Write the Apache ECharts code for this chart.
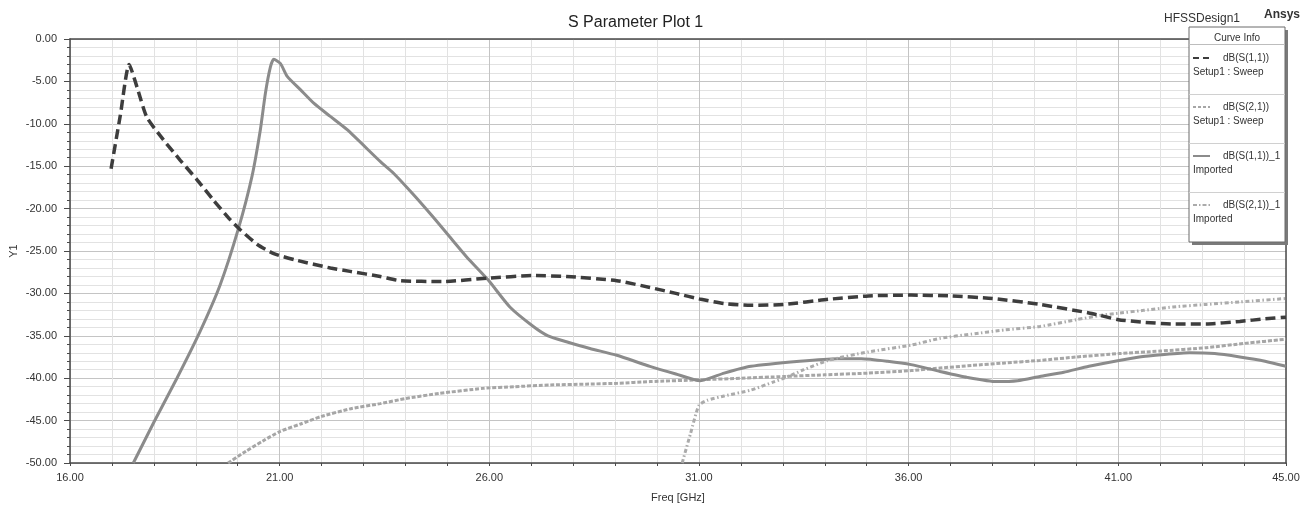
<!DOCTYPE html>
<html>
<head>
<meta charset="utf-8">
<title>S Parameter Plot 1</title>
<script src="https://cdn.jsdelivr.net/npm/echarts@6/dist/echarts.min.js"></script>
<style>
    html, body { margin: 0; padding: 0; background: #fff; }
    #main { width: 1314px; height: 506px; }
</style>
</head>
<body>
<div id="main"></div>
<script>
// 读图估计的数据 (Freq GHz / dB)
var s11SetupFreq = [16.98, 17.2, 17.41, 17.6, 17.83, 18.23, 18.63, 19.03, 19.42, 19.82, 20.06, 20.46, 20.86, 21.41, 22.21, 22.68, 23.4, 23.87, 24.9, 25.97, 27.05, 27.84, 29.04, 29.83, 30.45, 31.05, 31.6, 32.24, 33.03, 34.08, 35.04, 36.06, 37.0, 38.0, 39.13, 40.3, 40.57, 41.0, 41.6, 42.3, 43.1, 43.9, 44.5, 45.0];
var s11SetupDb = [-15.3, -9.0, -3.0, -5.7, -9.2, -11.9, -14.3, -16.6, -19.0, -21.3, -22.5, -24.2, -25.3, -26.1, -27.0, -27.4, -28.0, -28.5, -28.6, -28.2, -27.9, -28.0, -28.5, -29.3, -30.0, -30.7, -31.2, -31.4, -31.3, -30.7, -30.3, -30.2, -30.3, -30.6, -31.3, -32.3, -32.6, -33.1, -33.4, -33.6, -33.6, -33.3, -33.0, -32.8];

var s21SetupFreq = [19.77, 20.2, 20.6, 21.0, 21.5, 22.0, 22.7, 23.4, 24.0, 24.8, 25.85, 26.6, 27.46, 28.3, 29.06, 29.83, 31.0, 32.0, 33.03, 34.0, 35.04, 36.06, 36.75, 37.5, 38.3, 39.13, 40.0, 41.0, 42.0, 43.1, 44.0, 45.0];
var s21SetupDb = [-50.0, -48.6, -47.4, -46.3, -45.4, -44.5, -43.6, -43.0, -42.4, -41.8, -41.2, -41.0, -40.8, -40.7, -40.6, -40.4, -40.2, -40.0, -39.8, -39.6, -39.4, -39.1, -38.8, -38.5, -38.2, -37.9, -37.5, -37.1, -36.8, -36.4, -35.9, -35.4];

var s11ImpFreq = [17.51, 18.0, 18.55, 19.1, 19.58, 20.02, 20.34, 20.54, 20.66, 20.78, 20.86, 21.02, 21.18, 21.5, 21.82, 22.2, 22.61, 23.41, 23.71, 24.2, 24.66, 25.05, 25.46, 25.97, 26.49, 27.05, 27.4, 27.84, 28.4, 29.04, 29.83, 30.45, 31.03, 31.6, 32.24, 33.4, 34.3, 34.87, 35.5, 36.06, 36.75, 37.4, 38.1, 38.6, 39.13, 39.7, 40.3, 41.5, 42.1, 42.7, 43.3, 43.9, 44.5, 45.0];
var s11ImpDb = [-50.0, -45.2, -40.0, -34.5, -29.0, -22.3, -16.2, -10.7, -6.4, -3.3, -2.4, -2.9, -4.4, -6.0, -7.6, -9.1, -10.7, -14.5, -15.8, -18.4, -21.0, -23.3, -25.7, -28.4, -31.6, -33.9, -35.0, -35.7, -36.5, -37.3, -38.6, -39.5, -40.3, -39.4, -38.6, -38.0, -37.7, -37.7, -38.0, -38.4, -39.2, -39.9, -40.4, -40.3, -39.8, -39.3, -38.6, -37.5, -37.2, -37.0, -37.1, -37.5, -38.0, -38.6];

var s21ImpFreq = [30.6, 30.8, 31.0, 31.2, 31.6, 32.24, 32.8, 33.03, 33.5, 34.08, 35.04, 36.06, 36.75, 37.5, 38.3, 39.13, 40.0, 40.57, 40.9, 41.6, 42.3, 43.1, 43.9, 45.0];
var s21ImpDb = [-50.0, -46.5, -43.2, -42.6, -42.1, -41.4, -40.4, -40.0, -39.0, -37.9, -36.9, -36.1, -35.3, -34.8, -34.3, -33.9, -33.1, -32.6, -32.4, -32.0, -31.6, -31.3, -31.0, -30.6];

var seriesNames = ['dB(S(1,1))', 'dB(S(2,1))', 'dB(S(1,1))_1', 'dB(S(2,1))_1'];
var seriesSources = ['Setup1 : Sweep', 'Setup1 : Sweep', 'Imported', 'Imported'];

var xMin = 16, xMax = 45;
var yMin = -50, yMax = 0;

var FONT = 'Liberation Sans, Arial, sans-serif';

function pair(f, d) {
    var out = [];
    for (var i = 0; i < f.length; i++) out.push([f[i], d[i]]);
    return out;
}

var myChart = echarts.init(document.getElementById('main'));

// 线型: 颜色 / 宽度 / 虚线
var styles = [
    { color: '#3d3d3d', width: 3.5, type: [10, 5] },
    { color: '#a6a6a6', width: 3, type: [4, 1.8] },
    { color: '#8b8b8b', width: 3, type: 'solid' },
    { color: '#ababab', width: 3, type: [4, 2.5, 1.5, 2.5] }
];
var legendDash = [[6, 4], [3, 2], null, [4, 2, 1.5, 2]];
var datas = [
    pair(s11SetupFreq, s11SetupDb),
    pair(s21SetupFreq, s21SetupDb),
    pair(s11ImpFreq, s11ImpDb),
    pair(s21ImpFreq, s21ImpDb)
];

var series = [];
for (var i = 0; i < datas.length; i++) {
    series.push({
        name: seriesNames[i],
        type: 'line',
        xAxisIndex: 0,
        yAxisIndex: 0,
        data: datas[i],
        showSymbol: false,
        symbol: 'none',
        smooth: 0.2,
        silent: true,
        lineStyle: { color: styles[i].color, width: styles[i].width, type: styles[i].type, cap: 'butt' },
        z: 3 + (i === 0 ? 2 : 0)
    });
}

// 图例框 (Curve Info)
var bx = 1189, by = 27, bw = 96, bh = 215;
var legendEls = [
    { type: 'rect', shape: { x: bx + 3, y: by + 3, width: bw, height: bh }, style: { fill: '#7a7a7a' }, z: 100 },
    { type: 'rect', shape: { x: bx, y: by, width: bw, height: bh }, style: { fill: '#fff', stroke: '#6a6a6a', lineWidth: 1 }, z: 101 },
    { type: 'text', x: bx + bw / 2, y: by + 11, style: { text: 'Curve Info', fill: '#333', font: '10px ' + FONT, align: 'center', verticalAlign: 'middle' }, z: 102 },
    { type: 'line', shape: { x1: bx, y1: 44.5, x2: bx + bw, y2: 44.5 }, style: { stroke: '#bdbdbd', lineWidth: 1 }, z: 102 }
];
var entryTop = [58, 107, 156, 205];
var sepY = [94.5, 143.5, 192.5];
for (var s = 0; s < sepY.length; s++) {
    legendEls.push({ type: 'line', shape: { x1: bx, y1: sepY[s], x2: bx + bw, y2: sepY[s] }, style: { stroke: '#d0d0d0', lineWidth: 1 }, z: 102 });
}
for (var k = 0; k < 4; k++) {
    var ly = entryTop[k];
    legendEls.push({
        type: 'line', shape: { x1: bx + 4, y1: ly, x2: bx + 21, y2: ly },
        style: { stroke: styles[k].color, lineWidth: 2, lineDash: legendDash[k] },
        z: 102
    });
    legendEls.push({ type: 'text', x: bx + 34, y: ly, style: { text: seriesNames[k], fill: '#333', font: '10px ' + FONT, verticalAlign: 'middle' }, z: 102 });
    legendEls.push({ type: 'text', x: bx + 4, y: ly + 14, style: { text: seriesSources[k], fill: '#333', font: '10px ' + FONT, verticalAlign: 'middle' }, z: 102 });
}
legendEls.push({ type: 'text', x: 1164, y: 19, style: { text: 'HFSSDesign1', fill: '#333', font: '12px ' + FONT, verticalAlign: 'middle' }, z: 102 });
legendEls.push({ type: 'text', x: 1264, y: 15, style: { text: 'Ansys', fill: '#333', font: 'bold 12px ' + FONT, verticalAlign: 'middle' }, z: 102 });

// 网格: 每1单位一条线, 每5单位深一点
var gridColors = ['#c4c4c4', '#e2e2e2', '#e2e2e2', '#e2e2e2', '#e2e2e2'];

var option = {
    animation: false,
    backgroundColor: '#fff',
    title: {
        text: 'S Parameter Plot 1',
        left: 563,
        top: 10,
        textStyle: { fontSize: 16, fontWeight: 'normal', color: '#222', fontFamily: FONT }
    },
    grid: { left: 70, right: 28, top: 39, bottom: 43, containLabel: false, outerBoundsMode: 'none' },
    xAxis: [{
        type: 'value',
        min: xMin,
        max: xMax,
        interval: 1,
        name: 'Freq [GHz]',
        nameLocation: 'middle',
        nameGap: 29,
        nameTextStyle: { fontSize: 11, color: '#333', fontFamily: FONT },
        axisLine: { show: true, onZero: false, lineStyle: { color: '#4a4a4a', width: 1.5 } },
        axisTick: { show: true, length: 3, lineStyle: { color: '#4a4a4a' } },
        axisLabel: {
            fontSize: 11, color: '#333', fontFamily: FONT, margin: 9,
            formatter: function(v) {
                return ((v - xMin) % 5 === 0 || v === xMax) ? v.toFixed(2) : '';
            }
        },
        splitLine: { show: true, lineStyle: { color: gridColors, width: 1 } }
    }, {
        type: 'value',
        position: 'top',
        min: xMin,
        max: xMax,
        axisLine: { show: true, onZero: false, lineStyle: { color: '#4a4a4a', width: 1.5 } },
        axisTick: { show: false },
        axisLabel: { show: false },
        splitLine: { show: false }
    }],
    yAxis: [{
        type: 'value',
        min: yMin,
        max: yMax,
        interval: 5,
        name: 'Y1',
        nameLocation: 'middle',
        nameRotate: 90,
        nameGap: 51,
        nameMoveOverlap: false,
        nameTextStyle: { fontSize: 11, color: '#333', fontFamily: FONT },
        axisLine: { show: true, onZero: false, lineStyle: { color: '#4a4a4a', width: 1.5 } },
        axisTick: { show: true, length: 6, lineStyle: { color: '#4a4a4a' } },
        minorTick: { show: true, splitNumber: 5, length: 3, lineStyle: { color: '#4a4a4a' } },
        axisLabel: {
            fontSize: 11, color: '#333', fontFamily: FONT, margin: 13,
            formatter: function(v) { return v.toFixed(2); }
        },
        splitLine: { show: true, lineStyle: { color: '#c4c4c4', width: 1 } },
        minorSplitLine: { show: true, lineStyle: { color: '#e2e2e2', width: 1 } }
    }, {
        type: 'value',
        position: 'right',
        min: yMin,
        max: yMax,
        axisLine: { show: true, onZero: false, lineStyle: { color: '#4a4a4a', width: 1.5 } },
        axisTick: { show: false },
        axisLabel: { show: false },
        splitLine: { show: false }
    }],
    graphic: legendEls,
    series: series
};

myChart.setOption(option);
</script>
</body>
</html>
